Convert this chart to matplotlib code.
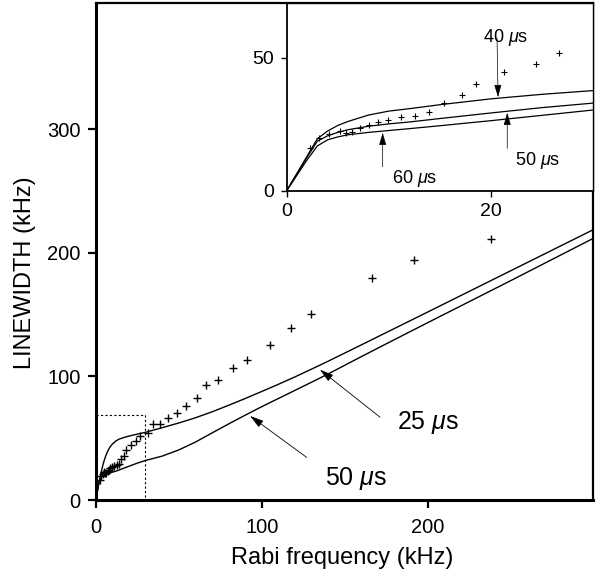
import matplotlib
matplotlib.use("Agg")
import matplotlib.pyplot as plt

plt.rcParams['font.family'] = ['Liberation Sans', 'DejaVu Sans']
plt.rcParams['mathtext.fontset'] = 'custom'
plt.rcParams['mathtext.rm'] = 'Liberation Sans'
plt.rcParams['mathtext.it'] = 'Liberation Sans:italic'

# ---- data: measured linewidths ----
rabi = [2.3, 3.2, 4.1, 5.2, 5.8, 6.4, 7.2, 8.1, 8.9, 9.9, 11.2, 12.6, 13.9, 15.4,
        17.2, 18.5, 21.3, 24.4, 26.7, 31.3, 34.7, 38.7, 43.4, 48.8, 54.2, 60.8,
        66.4, 73.9, 82.9, 91.0, 105.0, 117.5, 129.7, 166.3, 192.0, 238.0]
width = [16.2, 19.7, 21.2, 22.3, 21.8, 22.2, 23.7, 24.6, 25.8, 26.7, 27.6, 28.0,
         29.5, 33.1, 35.9, 40.1, 44.4, 47.5, 51.7, 54.6, 61.9, 61.9, 66.0, 70.4,
         75.7, 82.5, 93.3, 97.2, 106.9, 113.6, 125.8, 138.8, 150.7, 179.6, 194.6, 211.0]

# ---- main theory curves ----
main_x = [0, 1, 2, 3, 4, 5, 6, 7, 8, 9, 10, 12, 14, 17, 20, 25, 30, 40, 50, 60, 70,
          80, 90, 100, 110, 120, 130, 140, 160, 180, 200, 250, 300]
curve_25us = [0, 7, 14, 20.5, 26.5, 31.5, 35.5, 38.8, 41.5, 43.6, 45.2, 47.6, 49.2,
              50.6, 51.7, 53.3, 54.8, 58.5, 62.3, 66.5, 71.3, 76.6, 82.1, 87.8,
              93.6, 99.6, 105.9, 112.3, 125.5, 138.8, 152.1, 185.5, 218.9]
curve_50us = [0, 7, 14.5, 18, 19.3, 20, 20.6, 21.1, 21.6, 22, 22.5, 23.3, 24.2, 25.8,
              27.3, 29.8, 32, 35.5, 40.5, 46.8, 54.2, 61.5, 68.6, 75.5, 82.1, 88.7,
              95.3, 102, 116, 129.8, 143.5, 177.5, 211.9]

# ---- inset theory curves ----
inset_x = [0, 1, 2, 3, 4, 5, 6, 8, 10, 12, 15, 20, 25, 30]
curve_40us = [0, 6.5, 13, 19.5, 22.4, 24.5, 26, 28.4, 29.9, 30.8, 32.3, 34.5, 36.2, 37.6]
curve_50us_in = [0, 6.3, 12.6, 18.6, 20.6, 21.9, 22.9, 24.2, 25.1, 25.8, 27.1, 29.2, 31.2, 32.9]
curve_60us = [0, 5.8, 11.6, 16.8, 19.1, 20.2, 21.0, 21.9, 22.6, 23.3, 24.4, 26.3, 28.3, 30.3]

main_xticks = [0, 100, 200]
main_yticks = [0, 100, 200, 300]
inset_xticks = [0, 20]
inset_yticks = [0, 50]

W, H = 596, 579
fig = plt.figure(figsize=(W / 100, H / 100), dpi=100)

# ---------------- main axes ----------------
ax = fig.add_axes([95.7 / W, (H - 500) / H, (593 - 95.7) / W, 497 / H])
ax.plot(main_x, curve_25us, color='black', lw=1.0)
ax.plot(main_x, curve_50us, color='black', lw=1.0)
ax.plot(rabi, width, linestyle='none', marker='+', color='black',
        markersize=6, markeredgewidth=1.0)
ax.plot([0, 30, 30], [69, 69, 0], color='black', lw=0.8, linestyle=(0, (2, 2)))

ax.set_xlim(0, 299.6)
ax.set_ylim(0, 402.2)
ax.set_xticks(main_xticks)
ax.set_yticks(main_yticks)
ax.tick_params(direction='out', length=6, width=1.6, labelsize=14.5, pad=5)
ax.tick_params(axis='x', pad=7)
for side in ['left', 'bottom']:
    ax.spines[side].set_linewidth(2.2)
for side in ['top', 'right']:
    ax.spines[side].set_linewidth(1.6)

arrow_kw = dict(arrowstyle='-|>,head_length=0.7,head_width=0.2', color='black',
                lw=0.6, shrinkA=0, shrinkB=0, mutation_scale=12)
ax.annotate('', xy=(135.1, 105.5), xytext=(171.3, 67.0), arrowprops=arrow_kw)
ax.annotate('', xy=(93.0, 68.0), xytext=(127.1, 34.5), arrowprops=arrow_kw)
ax.text(200.2, 62.5, r'25 $\mu$s', fontsize=18, ha='center', va='center')
ax.text(156.8, 17.5, r'50 $\mu$s', fontsize=18, ha='center', va='center')

fig.text(341.7 / W, (H - 558) / H, 'Rabi frequency (kHz)', fontsize=17,
         ha='center', va='center')
fig.text(25 / W, (H - 273) / H, 'LINEWIDTH (kHz)', fontsize=17, rotation=90,
         ha='center', va='center')

# ---------------- inset axes ----------------
ins = fig.add_axes([286.7 / W, (H - 190.7) / H, (593 - 286.7) / W, (190.7 - 3) / H])
ins.set_facecolor('white')
ins.plot(inset_x, curve_40us, color='black', lw=0.9)
ins.plot(inset_x, curve_50us_in, color='black', lw=0.9)
ins.plot(inset_x, curve_60us, color='black', lw=0.9)
ins.plot([r for r in rabi if r <= 30], [w for r, w in zip(rabi, width) if r <= 30],
         linestyle='none', marker='+', color='black', markersize=4,
         markeredgewidth=0.8)
ins.set_xlim(0, 30)
ins.set_ylim(0, 70.5)
ins.set_xticks(inset_xticks)
ins.set_yticks(inset_yticks)
ins.tick_params(direction='out', length=4, width=1.0, labelsize=14, pad=5)
for side in ['left', 'bottom']:
    ins.spines[side].set_linewidth(1.3)
for side in ['top', 'right']:
    ins.spines[side].set_linewidth(1.0)

arrow_in = dict(arrowstyle='-|>,head_length=0.7,head_width=0.2', color='black',
                lw=0.5, shrinkA=0, shrinkB=0, mutation_scale=11)
ins.annotate('', xy=(20.7, 35.1), xytext=(20.6, 57.3), arrowprops=arrow_in)
ins.annotate('', xy=(21.6, 29.3), xytext=(21.6, 15.9), arrowprops=arrow_in)
ins.annotate('', xy=(9.4, 21.8), xytext=(9.4, 9.0), arrowprops=arrow_in)
ins.text(21.4, 57.6, r'40 $\mu$s', fontsize=13, ha='center', va='center')
ins.text(24.6, 11.5, r'50 $\mu$s', fontsize=13, ha='center', va='center')
ins.text(12.5, 4.4, r'60 $\mu$s', fontsize=13, ha='center', va='center')

fig.savefig('out.png', dpi=100)
